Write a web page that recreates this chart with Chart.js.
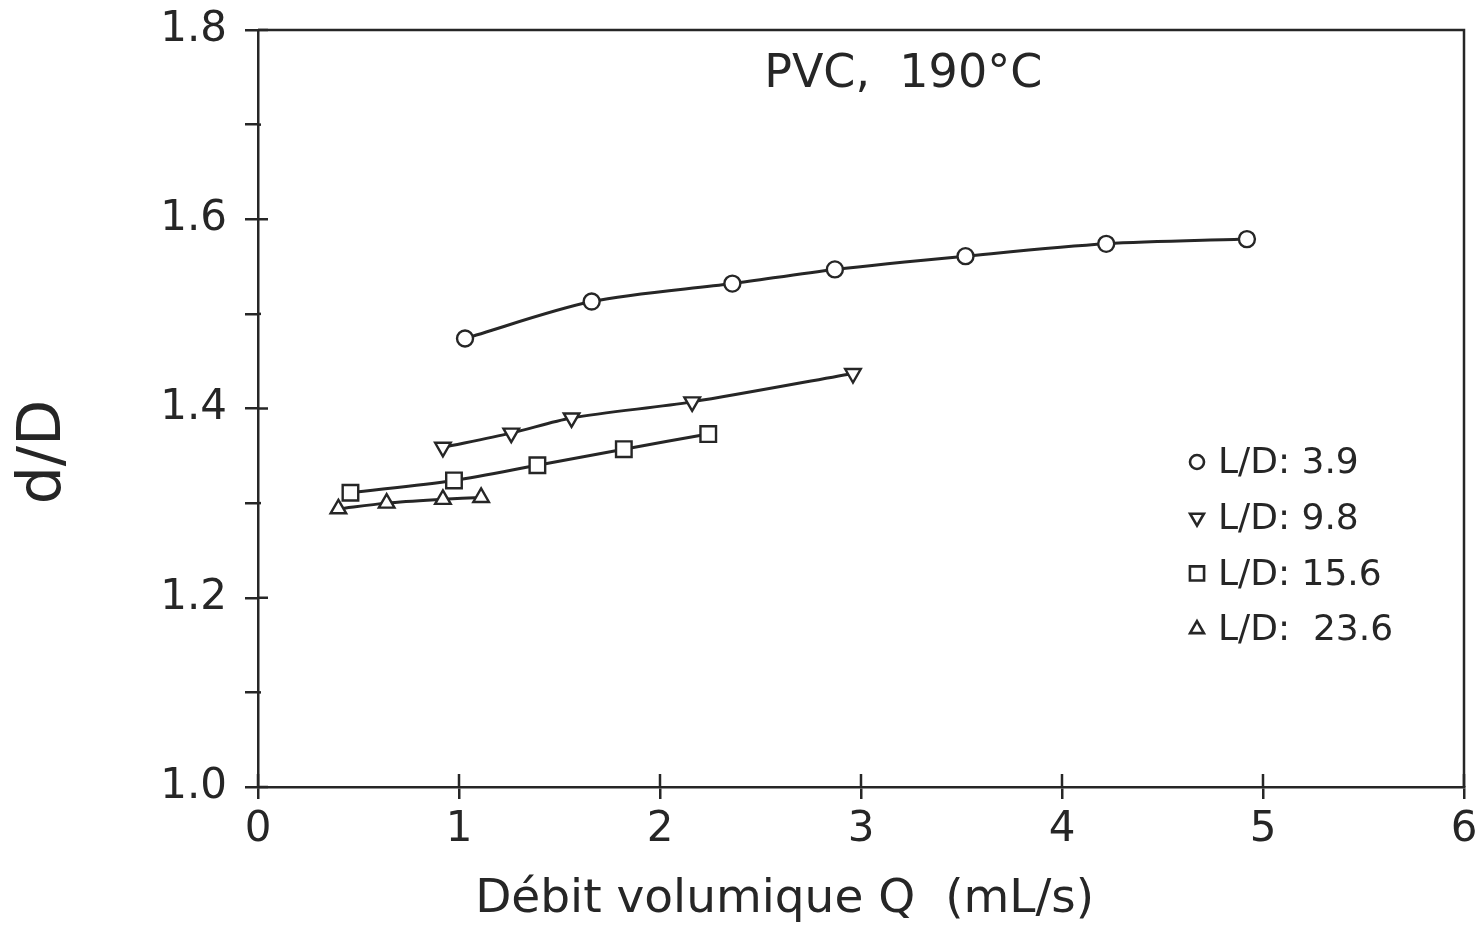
<!DOCTYPE html>
<html>
<head>
<meta charset="utf-8">
<script src="https://cdn.jsdelivr.net/npm/chart.js@4/dist/chart.umd.min.js"></script>
<style>
  html, body { margin: 0; padding: 0; background: #fff; }
  #wrap { width: 1481px; height: 925px; position: relative; }
</style>
</head>
<body>
<div id="wrap"><canvas id="c"></canvas></div>
<script>
// ---- data ----
const seriesLabels = ['L/D: 3.9', 'L/D: 9.8', 'L/D: 15.6', 'L/D:  23.6'];
const qA = [1.03, 1.66, 2.36, 2.87, 3.52, 4.22, 4.92];
const dA = [1.474, 1.513, 1.532, 1.547, 1.561, 1.574, 1.579];
const qB = [0.92, 1.26, 1.56, 2.16, 2.96];
const dB = [1.359, 1.374, 1.390, 1.407, 1.437];
const qC = [0.46, 0.975, 1.39, 1.82, 2.24];
const dC = [1.311, 1.324, 1.340, 1.357, 1.373];
const qD = [0.40, 0.64, 0.92, 1.11];
const dD = [1.294, 1.300, 1.304, 1.306];
const xTicks = [0, 1, 2, 3, 4, 5, 6];
const yTickLabels = ['1.0', '1.2', '1.4', '1.6', '1.8'];
const plotTitle = 'PVC,  190°C';
const xTitle = 'Débit volumique Q  (mL/s)';
const yTitle = 'd/D';

const INK = '#262626';
const FONT = 'DejaVu Sans';

function pts(xs, ys) { return xs.map((x, i) => ({ x: x, y: ys[i] })); }

const styles = [
  { pointStyle: 'circle', rot: 0, r: 8, lr: 7 },
  { pointStyle: 'triangle', rot: 180, r: 9, lr: 8 },
  { pointStyle: 'rect', rot: 0, r: 11, lr: 10 },
  { pointStyle: 'triangle', rot: 0, r: 9, lr: 8 }
];
const dataSets = [pts(qA, dA), pts(qB, dB), pts(qC, dC), pts(qD, dD)];

const datasets = dataSets.map((d, i) => ({
  label: seriesLabels[i],
  data: d,
  showLine: true,
  borderColor: INK,
  borderWidth: 3,
  backgroundColor: '#ffffff',
  pointBackgroundColor: '#ffffff',
  pointBorderColor: INK,
  pointBorderWidth: 2.4,
  pointStyle: styles[i].pointStyle,
  pointRotation: styles[i].rot,
  pointRadius: styles[i].r,
  pointHoverRadius: styles[i].r,
  tension: 0.3
}));

const decor = {
  id: 'decor',
  afterDraw(chart) {
    const ctx = chart.ctx;
    const a = chart.chartArea;
    const xs = chart.scales.x, ys = chart.scales.y;
    ctx.save();
    ctx.strokeStyle = INK;
    ctx.lineWidth = 2.5;
    // frame top/right
    ctx.beginPath();
    ctx.moveTo(a.left, a.top); ctx.lineTo(a.right, a.top); ctx.lineTo(a.right, a.bottom);
    ctx.stroke();
    // inner tick parts
    ctx.lineWidth = 2.5;
    ys.ticks.forEach(t => {
      const y = ys.getPixelForValue(t.value);
      const major = Math.round(t.value * 10) % 2 === 0;
      ctx.beginPath(); ctx.moveTo(a.left, y); ctx.lineTo(a.left + (major ? 10 : 3), y); ctx.stroke();
    });
    xs.ticks.forEach(t => {
      const x = xs.getPixelForValue(t.value);
      ctx.beginPath(); ctx.moveTo(x, a.bottom); ctx.lineTo(x, a.bottom - 13); ctx.stroke();
    });
    // plot title
    ctx.fillStyle = INK;
    ctx.font = '46px "' + FONT + '"';
    ctx.textAlign = 'center';
    ctx.textBaseline = 'alphabetic';
    ctx.fillText(plotTitle, xs.getPixelForValue(3.21), a.top + 57);
    // x title
    ctx.font = '47px "' + FONT + '"';
    ctx.fillText(xTitle, xs.getPixelForValue(2.62), 912);
    // y title
    ctx.save();
    ctx.translate(60, ys.getPixelForValue(1.354));
    ctx.rotate(-Math.PI / 2);
    ctx.font = '60px "' + FONT + '"';
    ctx.textAlign = 'center';
    ctx.fillText(yTitle, 0, 0);
    ctx.restore();
    // legend
    ctx.font = '36px "' + FONT + '"';
    ctx.textAlign = 'left';
    ctx.textBaseline = 'middle';
    const lx = a.left + 939, tx = a.left + 960;
    chart.data.datasets.forEach((ds, i) => {
      const y = a.top + 432 + i * 55.7;
      ctx.fillStyle = '#ffffff';
      ctx.strokeStyle = INK;
      ctx.lineWidth = 2.6;
      Chart.helpers.drawPoint(ctx, {
        pointStyle: styles[i].pointStyle,
        rotation: styles[i].rot,
        radius: styles[i].lr,
        borderWidth: 2.6
      }, lx, y);
      ctx.fillStyle = INK;
      ctx.fillText(ds.label, tx, y + 2);
    });
    ctx.restore();
  }
};

new Chart(document.getElementById('c'), {
  type: 'scatter',
  data: { datasets: datasets },
  plugins: [decor],
  options: {
    responsive: true,
    maintainAspectRatio: false,
    animation: false,
    layout: { padding: { top: 30, right: 17, left: 0, bottom: 0 } },
    plugins: { legend: { display: false }, tooltip: { enabled: false } },
    scales: {
      x: {
        type: 'linear', min: 0, max: 6,
        afterFit(s) { s.height = 138; s.paddingLeft = 0; s.paddingRight = 0; },
        afterBuildTicks(s) { s.ticks = xTicks.map(v => ({ value: v })); },
        ticks: { color: INK, font: { family: FONT, size: 42 }, padding: 6, maxRotation: 0,
                 callback: v => String(v) },
        grid: { drawOnChartArea: false, drawTicks: true, tickLength: 12, color: INK, lineWidth: 2.5 },
        border: { display: true, color: INK, width: 2.5 }
      },
      y: {
        type: 'linear', min: 1.0, max: 1.8,
        afterFit(s) { s.width = 258; s.paddingTop = 0; s.paddingBottom = 0; },
        ticks: { stepSize: 0.1, color: INK, font: { family: FONT, size: 42 }, padding: 18,
                 callback: v => {
                   const k = Math.round(v * 10);
                   if (k % 2 !== 0) return '';
                   return yTickLabels[(k - 10) / 2];
                 } },
        grid: { drawOnChartArea: false, drawTicks: true, tickLength: 13, color: INK, lineWidth: 2.5 },
        border: { display: true, color: INK, width: 2.5 }
      }
    }
  }
});
</script>
</body>
</html>
